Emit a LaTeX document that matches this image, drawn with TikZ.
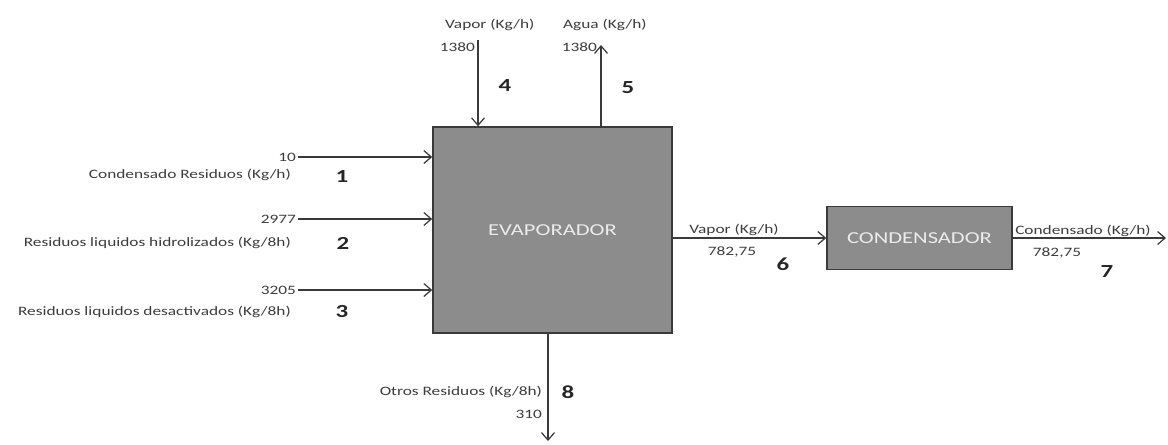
\documentclass[tikz,border=0pt]{standalone}
\usepackage{fontspec}
\usetikzlibrary{arrows.meta}
\newfontfamily\lblfont[FakeStretch=1.35]{Carlito}
\definecolor{boxgray}{HTML}{8C8C8C}
\definecolor{edgegray}{HTML}{3A3A3A}
\definecolor{txtgray}{HTML}{3C3C3C}

\begin{document}
\begin{tikzpicture}[x=0.02cm, y=-0.02cm,
        unit/.style={draw=edgegray, line width=0.9pt, fill=boxgray, text=white!92!black, inner sep=0pt, font=\lblfont\fontsize{9.5}{11}\selectfont},
        lbl/.style={text=txtgray, inner sep=1pt, font=\lblfont\fontsize{7.3}{9}\selectfont},
        num/.style={text=black!85, inner sep=1pt, font=\lblfont\bfseries\fontsize{10.5}{12}\selectfont},
        flow/.style={draw=edgegray, line width=0.7pt, -{Straight Barb[length=1.5mm, width=2.6mm]}}]
        \useasboundingbox (0,0) rectangle (1168,444);

        % Draw nodes
        \node[unit, minimum width=4.78cm, minimum height=4.12cm] (evap) at (552.5,230) {EVAPORADOR};
        \node[unit, minimum width=3.7cm, minimum height=1.26cm] (cond) at (919.5,238) {CONDENSADOR};

        \node[lbl, anchor=east] (v1) at (298,157) {10};
        \node[lbl, anchor=east] (v2) at (298,219) {2977};
        \node[lbl, anchor=east] (v3) at (298,290) {3205};
        \coordinate (c4) at (478,40);
        \coordinate (c5) at (601,45);
        \coordinate (c7) at (1166,238);
        \coordinate (c8) at (548,441);

        % Draw connections
        \draw[flow] (v1.east) -- (evap.west |- v1.east);
        \draw[flow] (v2.east) -- (evap.west |- v2.east);
        \draw[flow] (v3.east) -- (evap.west |- v3.east);
        \draw[flow] (c4) -- (evap.north -| c4);
        \draw[flow] (evap.north -| c5) -- (c5);
        \draw[flow] (evap.east |- cond.west) -- (cond.west);
        \draw[flow] (cond.east) -- (c7);
        \draw[flow] (evap.south -| c8) -- (c8);

        % Labels
        \node[lbl, anchor=east] (l1) at (293,175) {Condensado Residuos (Kg/h)};
        \node[lbl, anchor=east] (l2) at (293,243) {Residuos liquidos hidrolizados (Kg/8h)};
        \node[lbl, anchor=east] (l3) at (293,312) {Residuos liquidos desactivados (Kg/8h)};
        \node[num] (n1) at (342,177) {1};
        \node[num] (n2) at (343,243) {2};
        \node[num] (n3) at (342,312) {3};

        \node[lbl, anchor=west] (l4) at (443,25) {Vapor (Kg/h)};
        \node[lbl, anchor=east] (v4) at (477,47) {1380};
        \node[num] (n4) at (505,86) {4};
        \node[lbl, anchor=west] (l5) at (561,25) {Agua (Kg/h)};
        \node[lbl, anchor=east] (v5) at (599,47) {1380};
        \node[num] (n5) at (628,88) {5};

        \node[lbl] (l6) at (734,230) {Vapor (Kg/h)};
        \node[lbl] (v6) at (732,252) {782,75};
        \node[num] (n6) at (783,264) {6};
        \node[lbl] (l7) at (1083,231) {Condensado (Kg/h)};
        \node[lbl] (v7) at (1057,253) {782,75};
        \node[num] (n7) at (1107,272) {7};

        \node[lbl, anchor=east] (l8) at (544,392) {Otros Residuos (Kg/8h)};
        \node[lbl, anchor=east] (v8) at (544,414) {310};
        \node[num] (n8) at (568,392) {8};
    \end{tikzpicture}
\end{document}
